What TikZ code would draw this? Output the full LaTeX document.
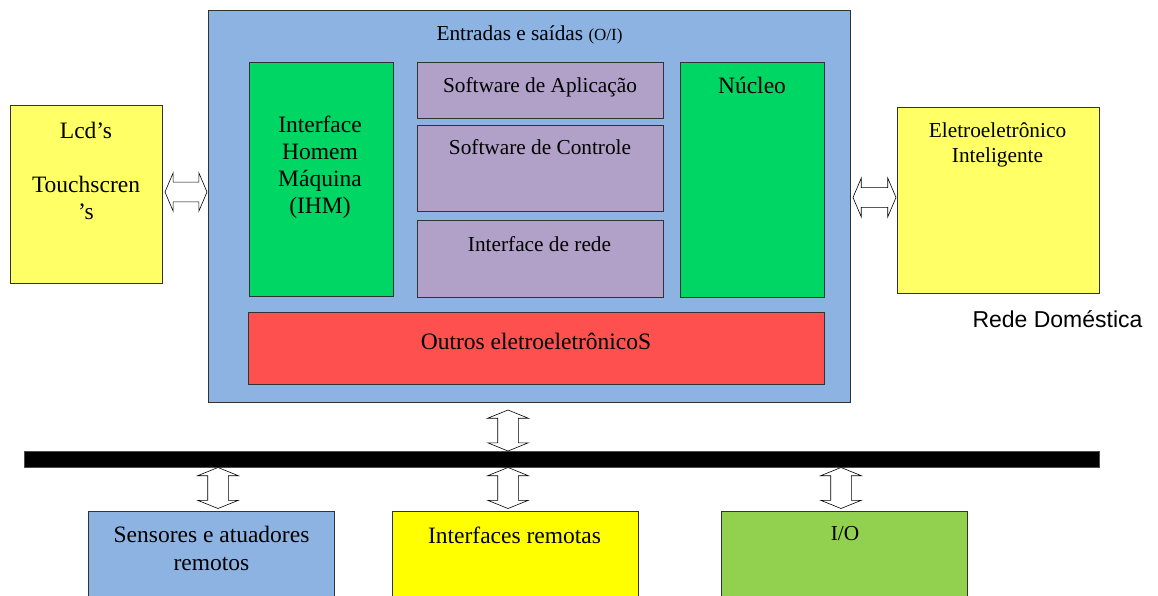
\documentclass[tikz,border=0pt]{standalone}
\usepackage{fontspec}
\setmainfont{Liberation Serif}
\setsansfont{Liberation Sans}
\usetikzlibrary{shapes.arrows}
\definecolor{mainblue}{RGB}{141,179,226}
\definecolor{boxgreen}{RGB}{0,214,100}
\definecolor{boxpurple}{RGB}{177,160,199}
\definecolor{lightyellow}{RGB}{255,255,102}
\definecolor{boxred}{RGB}{255,80,80}
\definecolor{boxyellow}{RGB}{255,255,0}
\definecolor{iogreen}{RGB}{146,208,80}
\definecolor{boxline}{RGB}{50,50,50}
\begin{document}
\begin{tikzpicture}[x=1pt,y=-1pt,
  box/.style={rectangle, draw=boxline, line width=0.9pt, inner sep=0pt, outer sep=0pt},
  lbl/.style={inner sep=0pt, outer sep=0pt, align=center},
  bigtxt/.style={font=\fontsize{23.5}{27}\selectfont},
  midtxt/.style={font=\fontsize{21.3}{25}\selectfont},
  dblarrow/.style={double arrow, draw=black, fill=white, line width=0.6pt, inner xsep=0pt, inner ysep=9.5pt, outer sep=0pt,
    double arrow head extend=9.5pt, double arrow tip angle=134, minimum height=42pt, minimum width=38pt},
  varrow/.style={dblarrow, rotate=90, inner ysep=10pt, minimum height=41pt, minimum width=40pt, double arrow head extend=10pt, double arrow tip angle=136}
  ]
\useasboundingbox (0,0) rectangle (1158,596);
\clip (0,0) rectangle (1158,596);

% boxes
\node[box, fill=mainblue, minimum width=642pt, minimum height=392pt] (main) at (529,206) {};
\node[box, fill=lightyellow, minimum width=152pt, minimum height=178pt] (lcd) at (86,194) {};
\node[box, fill=lightyellow, minimum width=202pt, minimum height=186pt] (ele) at (998,200) {};
\node[box, fill=boxgreen, minimum width=144pt, minimum height=234pt] (ihm) at (321,179) {};
\node[box, fill=boxpurple, minimum width=246pt, minimum height=56pt] (sapl) at (540,90) {};
\node[box, fill=boxpurple, minimum width=246pt, minimum height=86pt] (sctl) at (540,168) {};
\node[box, fill=boxpurple, minimum width=246pt, minimum height=77pt] (srede) at (540,258.5) {};
\node[box, fill=boxgreen, minimum width=144pt, minimum height=235pt] (nucleo) at (752,179.5) {};
\node[box, fill=boxred, minimum width=576pt, minimum height=72pt] (outros) at (536,348) {};
\node[rectangle, fill=black, draw=black!70, line width=0.6pt, inner sep=0pt, minimum width=1075pt, minimum height=16pt] (bus) at (561.5,459) {};
\node[box, fill=mainblue, minimum width=246pt, minimum height=110pt] (sens) at (211,566) {};
\node[box, fill=boxyellow, minimum width=246pt, minimum height=110pt] (iface) at (515,566) {};
\node[box, fill=iogreen, minimum width=246pt, minimum height=110pt] (io) at (844,566) {};

% block arrows
\node[dblarrow] (arLcd) at (186,192) {};
\node[dblarrow, minimum height=43pt, minimum width=39pt] (arEle) at (874.5,197.5) {};
\node[varrow] (arMain) at (508,430.5) {};
\node[varrow] (arSens) at (218,488) {};
\node[varrow] (arIface) at (508,488) {};
\node[varrow] (arIo) at (841,488) {};

% texts
\node[lbl, midtxt, anchor=base] (tEntr) at (529.5,41) {Entradas e saídas {\fontsize{17}{20}\selectfont (O/I)}};
\node[lbl, midtxt, anchor=base] (tSapl) at (540,93) {Software de Aplicação};
\node[lbl, midtxt, anchor=base] (tSctl) at (540,155) {Software de Controle};
\node[lbl, midtxt, anchor=base] (tSrede) at (539.5,251) {Interface de rede};
\node[lbl, bigtxt, anchor=north] (tIhm) at (320,116) {Interface\\Homem\\Máquina\\(IHM)};
\node[lbl, bigtxt, anchor=base] (tNucleo) at (752,94) {Núcleo};
\node[lbl, bigtxt, anchor=north] (tLcd) at (86,122) {Lcd’s\\[27pt]Touchscren\\’s};
\node[lbl, midtxt, anchor=north] (tEle) at (997.5,122.5) {Eletroeletrônico\\Inteligente};
\node[lbl, bigtxt, anchor=base] (tOutros) at (536,349) {Outros eletroeletrônicoS};
\node[lbl, font=\sffamily\fontsize{23}{27}\selectfont, anchor=base] (tRede) at (1057.5,327) {Rede Doméstica};
\node[lbl, bigtxt, anchor=north, font=\fontsize{23.5}{28}\selectfont] (tSens) at (211.5,526) {Sensores e atuadores\\remotos};
\node[lbl, bigtxt, anchor=base] (tIface) at (514.5,543) {Interfaces remotas};
\node[lbl, midtxt, anchor=base] (tIo) at (845,540) {I/O};
\end{tikzpicture}
\end{document}
